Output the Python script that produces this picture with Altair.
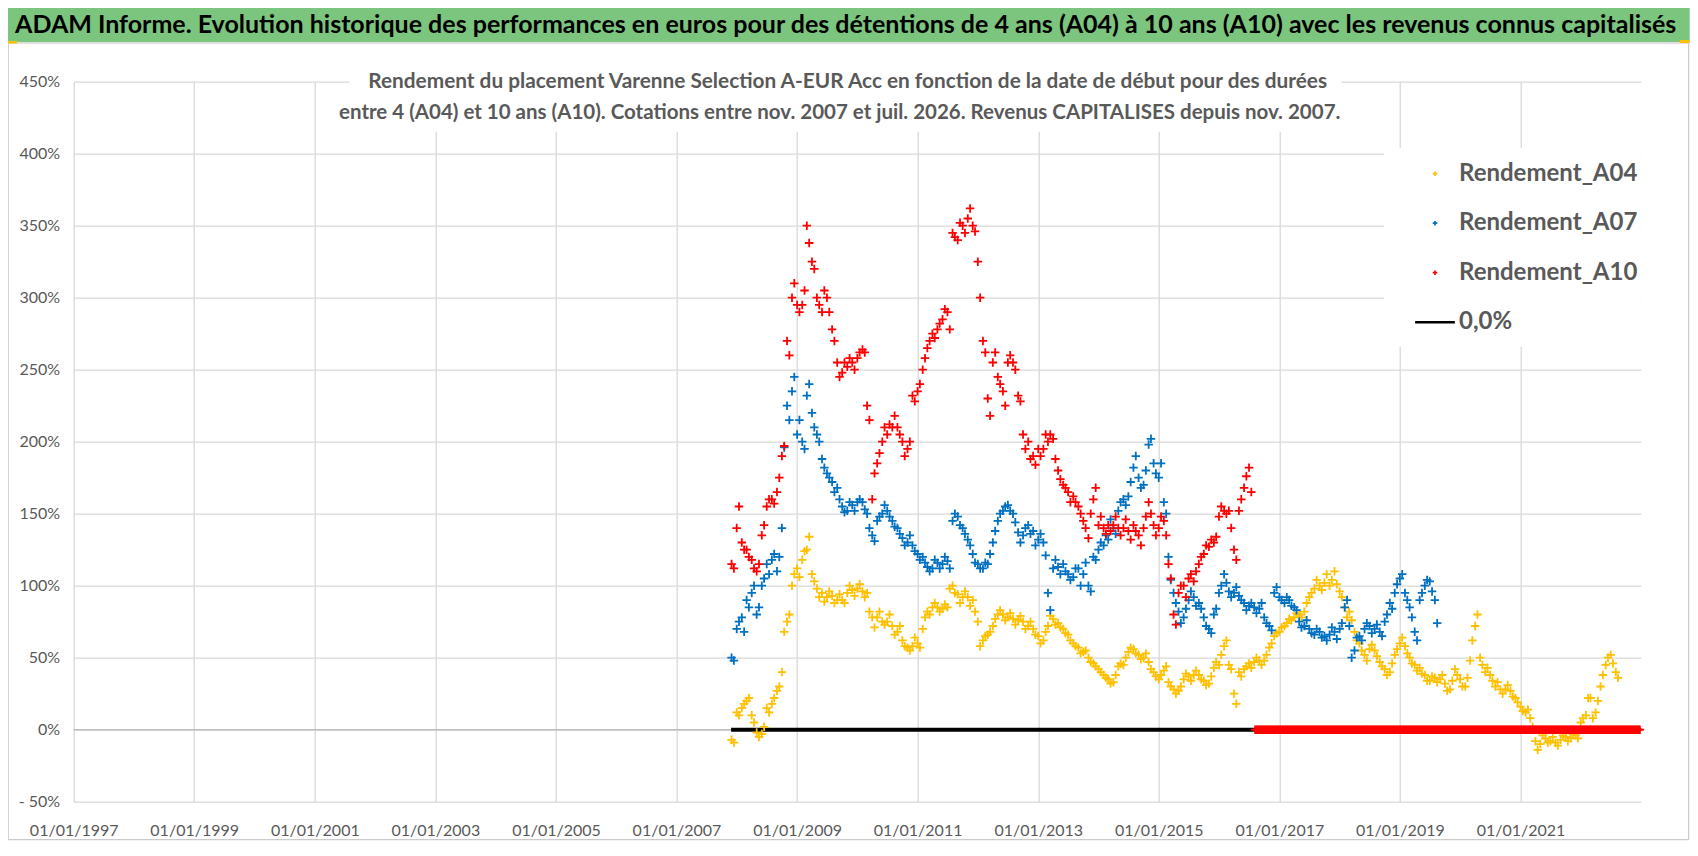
import altair as alt
import pandas as pd

TITLE = "ADAM Informe. Evolution historique des performances en euros pour des détentions de 4 ans (A04) à 10 ans (A10) avec les revenus connus capitalisés"
SUB1 = "Rendement du placement Varenne Selection A-EUR Acc en fonction de la date de début pour des durées"
SUB2 = "entre 4 (A04) et 10 ans (A10). Cotations entre nov. 2007 et juil. 2026. Revenus  CAPITALISES  depuis nov. 2007."

SERIES = ["Rendement_A04", "Rendement_A07", "Rendement_A10", "0,0%"]
COLORS = ["#FFC000", "#0070C0", "#FF0000", "#000000"]

# readings on the 1st of each month, from Dec 2007
START = "2007-12-01"
A04 = [-7, 12, 15, 20, 10, -2, -3, 15, 18, 27, 40, 75, 100,
       112, 118, 125, 108, 98, 95, 92, 93, 90, 90, 95, 97,
       98, 96, 95, 78, 78, 75, 75, 72, 68, 62, 57, 58,
       60, 70, 82, 85, 85, 84, 85, 100, 94, 92, 92, 90,
       75, 62, 66, 72, 80, 80, 78, 77, 76, 75, 72, 70,
       65, 62, 72, 77, 74, 70, 66, 60, 57, 54, 50, 46,
       42, 38, 35, 33, 44, 45, 54, 56, 52, 50, 47, 40,
       35, 41, 33, 28, 27, 35, 37, 38, 38, 34, 32, 43,
       45, 58, 45, 25, 40, 42, 46, 47, 48, 48, 57, 65,
       68, 72, 77, 78, 80, 82, 92, 98, 100, 102, 100, 110,
       96, 85, 82, 68, 60, 52, 56, 55, 47, 42, 40, 52,
       60, 58, 50, 45, 43, 38, 34, 36, 35, 32, 28, 42,
       35, 30, 48, 72, 50, 40, 38, 30, 28, 28, 27, 22,
       16, 12, 8, -8, -10, -6, -8, -9, -7, -5, -6, -4,
       5, 10, 22, 12, 30, 45, 52, 40]
A07 = [50, 70, 78, 90, 95, 80, 100, 115, 118, 110, 140, 225, 235,
       205, 200, 232, 220, 205, 188, 178, 172, 168, 155, 152, 156,
       158, 158, 150, 135, 145, 150, 152, 145, 140, 133, 130, 128,
       122, 120, 113, 112, 116, 115, 117, 145, 148, 140, 132, 122,
       115, 112, 115, 130, 145, 152, 156, 150, 137, 135, 142, 138,
       132, 130, 95, 112, 113, 115, 108, 106, 112, 108, 100, 120,
       125, 128, 132, 140, 152, 160, 162, 182, 175, 170, 198, 185,
       175, 158, 120, 95, 82, 78, 90, 92, 88, 78, 70, 80,
       95, 108, 96, 95, 93, 88, 86, 85, 84, 78, 72, 95,
       92, 88, 90, 85, 75, 72, 70, 66, 68, 65, 66, 68,
       70, 85, 72, 55, 65, 70, 72, 70, 68, 75, 88, 95,
       105, 95, 85, 68, 90, 100, 103, 90]
A10 = [115, 140, 130, 125, 118, 110, 135, 155, 160, 165, 190, 270, 300,
       295, 295, 350, 325, 300, 290, 300, 278, 255, 248, 252, 255,
       258, 264, 225, 160, 185, 200, 205, 210, 210, 200, 195, 232,
       235, 250, 265, 275, 278, 285, 290, 345, 340, 350, 355, 350,
       325, 270, 230, 255, 245, 235, 255, 255, 232, 205, 200, 190,
       195, 195, 200, 202, 180, 170, 165, 162, 155, 145, 133, 160,
       142, 140, 142, 142, 140, 140, 138, 142, 135, 140, 158, 142,
       140, 145, 115, 80, 95, 100, 105, 103, 115, 122, 127, 130,
       148, 152, 152, 125, 152, 168, 182]

# readings on the 15th of each month, from Dec 2007
MID_DAY_OFFSET = 14
A04_MID = [-9,
           10, 18, 22, 5, -5, 2, 12, 22, 30, 68, 80, 108,
           106, 124, 134, 103, 92, 89, 96, 88, 94, 88, 100, 93,
           101, 92, 82, 71, 82, 73, 80, 66, 72, 58, 55, 64,
           57, 78, 80, 88, 82, 87, 98, 95, 88, 96, 86, 82,
           58, 65, 68, 77, 83, 76, 81, 73, 79, 70, 75, 66,
           60, 68, 79, 73, 71, 67, 62, 58, 53, 55, 47, 44,
           40, 36, 32, 38, 46, 50, 57, 53, 49, 53, 42, 37,
           38, 44, 30, 25, 30, 39, 34, 41, 35, 31, 37, 47,
           52, 62, 42, 18, 37, 44, 43, 50, 45, 52, 60, 67,
           71, 74, 76, 81, 78, 88, 95, 104, 97, 108, 104, 101,
           92, 78, 76, 62, 55, 48, 59, 51, 44, 38, 46, 56,
           64, 53, 46, 41, 39, 34, 37, 33, 38, 27, 34, 38,
           30, 36, 62, 80, 45, 43, 34, 33, 25, 31, 23, 19,
           13, 14, 2, -14, -4, -9, -5, -11, -4, -8, -3, -6,
           8, 22, 8, 20, 38, 50, 46, 36]
A07_MID = [48,
           75, 68, 85, 100, 85, 105, 108, 122, 120, 196, 215, 245,
           215, 195, 240, 210, 200, 182, 175, 165, 160, 151, 158, 152,
           160, 153, 140, 131, 148, 156, 148, 141, 136, 128, 135, 124,
           118, 116, 110, 118, 112, 120, 112, 150, 142, 136, 128, 116,
           112, 116, 122, 138, 150, 155, 152, 144, 130, 140, 136, 128,
           136, 121, 83, 118, 108, 110, 104, 112, 100, 116, 96, 118,
           130, 135, 146, 136, 158, 156, 172, 190, 168, 180, 202, 178,
           185, 150, 104, 88, 74, 84, 96, 86, 84, 72, 67, 84,
           100, 102, 92, 99, 90, 83, 88, 81, 88, 74, 69, 99,
           90, 92, 86, 83, 71, 76, 67, 70, 64, 62, 71, 63,
           74, 90, 50, 64, 62, 74, 67, 73, 65, 80, 84, 101,
           108, 90, 78, 62, 95, 104, 96, 74]
A10_MID = [112,
           155, 125, 120, 112, 115, 142, 160, 157, 175, 197, 260, 310,
           290, 305, 338, 320, 295, 305, 290, 270, 245, 255, 258, 250,
           262, 262, 215, 178, 192, 210, 212, 218, 205, 190, 200, 228,
           240, 258, 270, 272, 282, 292, 278, 342, 352, 345, 362, 346,
           300, 262, 218, 262, 240, 225, 260, 250, 228, 195, 188, 184,
           190, 205, 205, 188, 174, 168, 158, 158, 150, 140, 150, 168,
           148, 136, 138, 148, 135, 146, 132, 138, 128, 148, 150, 135,
           148, 135, 105, 73, 100, 92, 108, 110, 120, 128, 132, 134,
           155, 150, 140, 118, 160, 176, 165]

A10_ZERO_START = "2016-08-01"   # A10 shown at 0 once no 10-year window remains
A10_ZERO_END = "2022-12-31"
ZERO_LINE_DATES = ["2007-11-28", "2022-12-31"]
ZERO_LINE_VALUES = [0, 0]
Y_TICKS = [-50, 0, 50, 100, 150, 200, 250, 300, 350, 400, 450]
X_TICK_YEARS = [1997, 1999, 2001, 2003, 2005, 2007, 2009, 2011, 2013, 2015, 2017, 2019, 2021]
X_DOMAIN_YEARS = [1997, 2023]

FONT = "Lato, Roboto, sans-serif"
SMALL_CROSS = "M-0.12,0L0.12,0M0,-0.12L0,0.12"
LEGEND_LINE = "M-1,-0.02L1,-0.02L1,0.02L-1,0.02Z"

rows = []
for name, vals, mids in [("Rendement_A04", A04, A04_MID), ("Rendement_A07", A07, A07_MID),
                         ("Rendement_A10", A10, A10_MID)]:
    d1 = pd.date_range(START, periods=len(vals), freq="MS")
    d2 = pd.date_range(START, periods=len(mids), freq="MS") + pd.Timedelta(days=MID_DAY_OFFSET)
    for d, v in zip(d1, vals):
        rows.append({"date": d.strftime("%Y-%m-%d"), "value": v, "series": name})
    for d, v in zip(d2, mids):
        rows.append({"date": d.strftime("%Y-%m-%d"), "value": v, "series": name})
for d in pd.date_range(A10_ZERO_START, A10_ZERO_END, freq="W"):
    rows.append({"date": d.strftime("%Y-%m-%d"), "value": 0, "series": "Rendement_A10"})
df = pd.DataFrame(rows)
zero_df = pd.DataFrame({"date": ZERO_LINE_DATES, "value": ZERO_LINE_VALUES, "series": ["0,0%", "0,0%"]})
one = pd.DataFrame({"k": [0]})

W, H = 1567.3, 720

legend = alt.Legend(title=None, orient="none", legendX=1341.3, legendY=72, padding=0,
                    labelFont=FONT, labelFontSize=24, labelColor="#595959", labelFontWeight="bold",
                    labelOffset=4, rowPadding=17.5, symbolOpacity=1, labelLimit=400,
                    symbolSize=1444, symbolStrokeWidth=1.7)

xscale = alt.Scale(domain=[alt.DateTime(year=y, month=1, date=1) for y in X_DOMAIN_YEARS])
yscale = alt.Scale(domain=[-50, 450], nice=False)
xaxis = alt.Axis(values=[alt.DateTime(year=y, month=1, date=1) for y in X_TICK_YEARS],
                 format="%d/%m/%Y", labelFont=FONT, labelFontSize=16, labelColor="#595959",
                 grid=True, gridColor="#D9D9D9", gridWidth=1.3, domain=False, ticks=False,
                 labelPadding=21, title=None, labelOverlap=False, labelFlush=False)
yaxis = alt.Axis(values=Y_TICKS, labelExpr="datum.value < 0 ? '- ' + abs(datum.value) + '%' : datum.value + '%'",
                 labelFont=FONT, labelFontSize=16, labelColor="#595959",
                 grid=True, gridColor="#D9D9D9", gridWidth=1.3, domain=False, ticks=False,
                 labelPadding=14, title=None)

color = alt.Color("series:N", scale=alt.Scale(domain=SERIES, range=COLORS), legend=legend)


def box(x, x2, y, y2, **kw):
    return alt.Chart(one).mark_rect(**kw).encode(
        x=alt.value(x), x2=alt.value(x2), y=alt.value(y), y2=alt.value(y2))


green = box(-65.7, 1616, -73.7, -39.7, fill="#7CC57E")
frame = box(-65.5, 1615, -38.7, 758, fillOpacity=0, stroke="#BFBFBF", strokeWidth=1)
mark_tl = box(-65.7, -56.7, -40.7, -38.2, fill="#FFC000")
mark_tr = box(1606, 1616, -41.7, -38.7, fill="#FFC000")
title_box = box(276, 1268, -14, 50, fill="white")
legend_box = box(1310.3, W, 66.3, 265, fill="white")

axis0 = alt.Chart(one).mark_rule(color="#BFBFBF", strokeWidth=1.5).encode(y=alt.Y("k:Q", scale=yscale))

zero_line = alt.Chart(zero_df).mark_line(strokeCap="butt", strokeWidth=4).encode(
    x=alt.X("date:T", scale=xscale, axis=xaxis),
    y=alt.Y("value:Q", scale=yscale, axis=yaxis),
    color=color,
)

points = alt.Chart(df).mark_point(filled=False, opacity=1, size=5000, strokeWidth=1.8).encode(
    x=alt.X("date:T", scale=xscale, axis=xaxis),
    y=alt.Y("value:Q", scale=yscale, axis=yaxis),
    color=color,
    shape=alt.Shape("series:N", scale=alt.Scale(domain=SERIES,
                                                range=[SMALL_CROSS, SMALL_CROSS, SMALL_CROSS, LEGEND_LINE]),
                    legend=legend),
)

title_text = alt.Chart(one).mark_text(text=TITLE, font=FONT, fontSize=25, fontWeight="bold", color="#000000",
                                      align="center", baseline="alphabetic").encode(
    x=alt.value(772), y=alt.value(-48.4))
sub1 = alt.Chart(one).mark_text(text=SUB1, font=FONT, fontSize=20.8, fontWeight="bold", color="#595959",
                                align="center", baseline="alphabetic").encode(x=alt.value(774), y=alt.value(6.6))
sub2 = alt.Chart(one).mark_text(text=SUB2, font=FONT, fontSize=20.5, fontWeight="bold", color="#595959",
                                align="center", baseline="alphabetic").encode(x=alt.value(766), y=alt.value(37.6))

chart = alt.layer(green, frame, mark_tl, mark_tr, axis0, title_box, legend_box, zero_line, points,
                  title_text, sub1, sub2).properties(
    width=W, height=H,
    autosize=alt.AutoSizeParams(type="none"),
    padding={"left": 65.7, "top": 73.7, "right": 49, "bottom": 44.3},
    background="white",
).configure_view(stroke=None)

chart.save("out.html", embed_options={"renderer": "svg", "actions": False})
